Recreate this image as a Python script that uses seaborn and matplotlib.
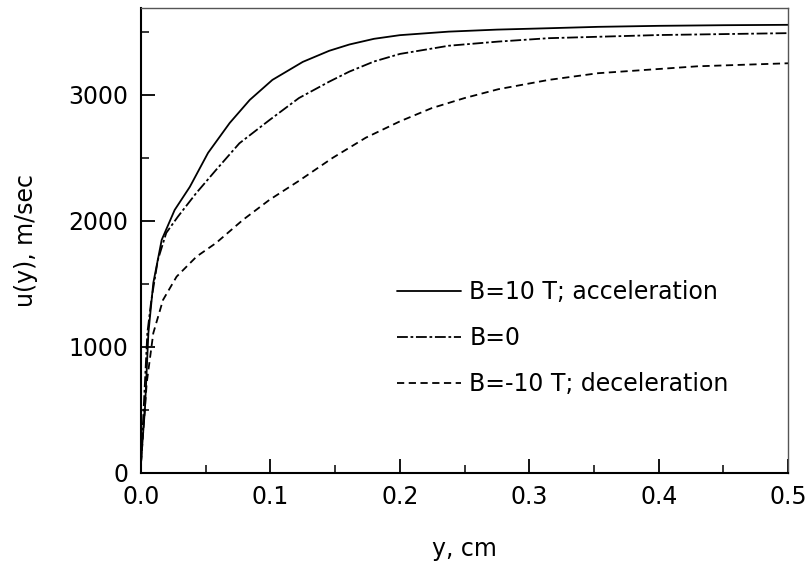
import numpy as np
import pandas as pd
import matplotlib
matplotlib.use("Agg")
import matplotlib.pyplot as plt
import seaborn as sns
from matplotlib.ticker import MultipleLocator

# ---- data ----
labels = ["B=10 T; acceleration", "B=0", "B=-10 T; deceleration"]

x_acc = [0.0, 0.0015, 0.003, 0.0057, 0.0095, 0.016, 0.026, 0.0377, 0.0518, 0.0685,
         0.084, 0.1015, 0.125, 0.1454, 0.161, 0.18, 0.2, 0.2377, 0.275, 0.315, 0.353, 0.4, 0.45, 0.5]
u_acc = [80, 300, 500, 1110, 1508, 1850, 2087, 2270, 2540, 2777,
         2960, 3119, 3262, 3350, 3400, 3445, 3474, 3502, 3518, 3529, 3540, 3548, 3553, 3556]

x_zero = [0.0, 0.002, 0.0049, 0.008, 0.013, 0.0195, 0.0285, 0.0426, 0.058, 0.076,
          0.0992, 0.122, 0.1454, 0.161, 0.18, 0.2, 0.2377, 0.276, 0.315, 0.4, 0.5]
u_zero = [80, 500, 1110, 1373, 1690, 1905, 2034, 2220, 2405, 2616,
          2800, 2975, 3105, 3185, 3265, 3325, 3390, 3423, 3450, 3475, 3490]

x_dec = [0.0, 0.0044, 0.0095, 0.017, 0.0275, 0.0429, 0.058, 0.0787, 0.0992, 0.122,
         0.148, 0.1736, 0.2, 0.2246, 0.25, 0.276, 0.315, 0.353, 0.43, 0.5]
u_dec = [80, 714, 1110, 1373, 1558, 1717, 1825, 2008, 2167, 2318,
         2500, 2660, 2790, 2895, 2975, 3045, 3119, 3172, 3227, 3251]

df = pd.concat([
    pd.DataFrame({"y": x_acc, "u": u_acc, "case": labels[0]}),
    pd.DataFrame({"y": x_zero, "u": u_zero, "case": labels[1]}),
    pd.DataFrame({"y": x_dec, "u": u_dec, "case": labels[2]}),
], ignore_index=True)

sns.set_theme(style="white")
plt.rcParams['font.family'] = ['DejaVu Sans']
plt.rcParams['text.color'] = 'black'
plt.rcParams['axes.labelcolor'] = 'black'

fig = plt.figure(figsize=(8.09, 5.63), dpi=100)
ax = fig.add_axes([0.1743, 0.1599, 0.8, 0.826])

dashes = {labels[0]: "", labels[1]: (6, 1.5, 1.5, 1.5), labels[2]: (4, 2.5)}
sns.lineplot(data=df, x="y", y="u", style="case", style_order=labels,
             dashes=dashes, color="black", linewidth=1.3, ax=ax,
             estimator=None, sort=False)

FS = 17
ax.set_xlim(0, 0.5)
ax.set_ylim(0, 3690)
ax.xaxis.set_major_locator(MultipleLocator(0.1))
ax.xaxis.set_minor_locator(MultipleLocator(0.05))
ax.yaxis.set_major_locator(MultipleLocator(1000))
ax.yaxis.set_minor_locator(MultipleLocator(500))
ax.set_xticks([0.0, 0.1, 0.2, 0.3, 0.4, 0.5])
ax.set_xticklabels(["0.0", "0.1", "0.2", "0.3", "0.4", "0.5"])
ax.tick_params(which="major", direction="in", length=10, width=1.3,
               labelsize=FS, colors="black", bottom=True, left=True, pad=9)
ax.tick_params(which="minor", direction="in", length=6, width=1.3,
               bottom=True, left=True)

for side in ["left", "bottom"]:
    ax.spines[side].set_color("black")
    ax.spines[side].set_linewidth(1.5)
for side in ["top", "right"]:
    ax.spines[side].set_color("#555555")
    ax.spines[side].set_linewidth(1.0)

ax.set_xlabel("y, cm", fontsize=FS, labelpad=20, color="black")
ax.set_ylabel("u(y), m/sec", fontsize=FS, labelpad=22, color="black")

handles, labs = ax.get_legend_handles_labels()
leg = ax.legend(handles, labs, loc="center left", bbox_to_anchor=(0.396, 0.29),
                frameon=False, fontsize=FS, handlelength=2.7, handletextpad=0.35,
                labelspacing=0.92, borderpad=0, borderaxespad=0)
for t in leg.get_texts():
    t.set_color("black")

fig.savefig("out.png", dpi=100)
